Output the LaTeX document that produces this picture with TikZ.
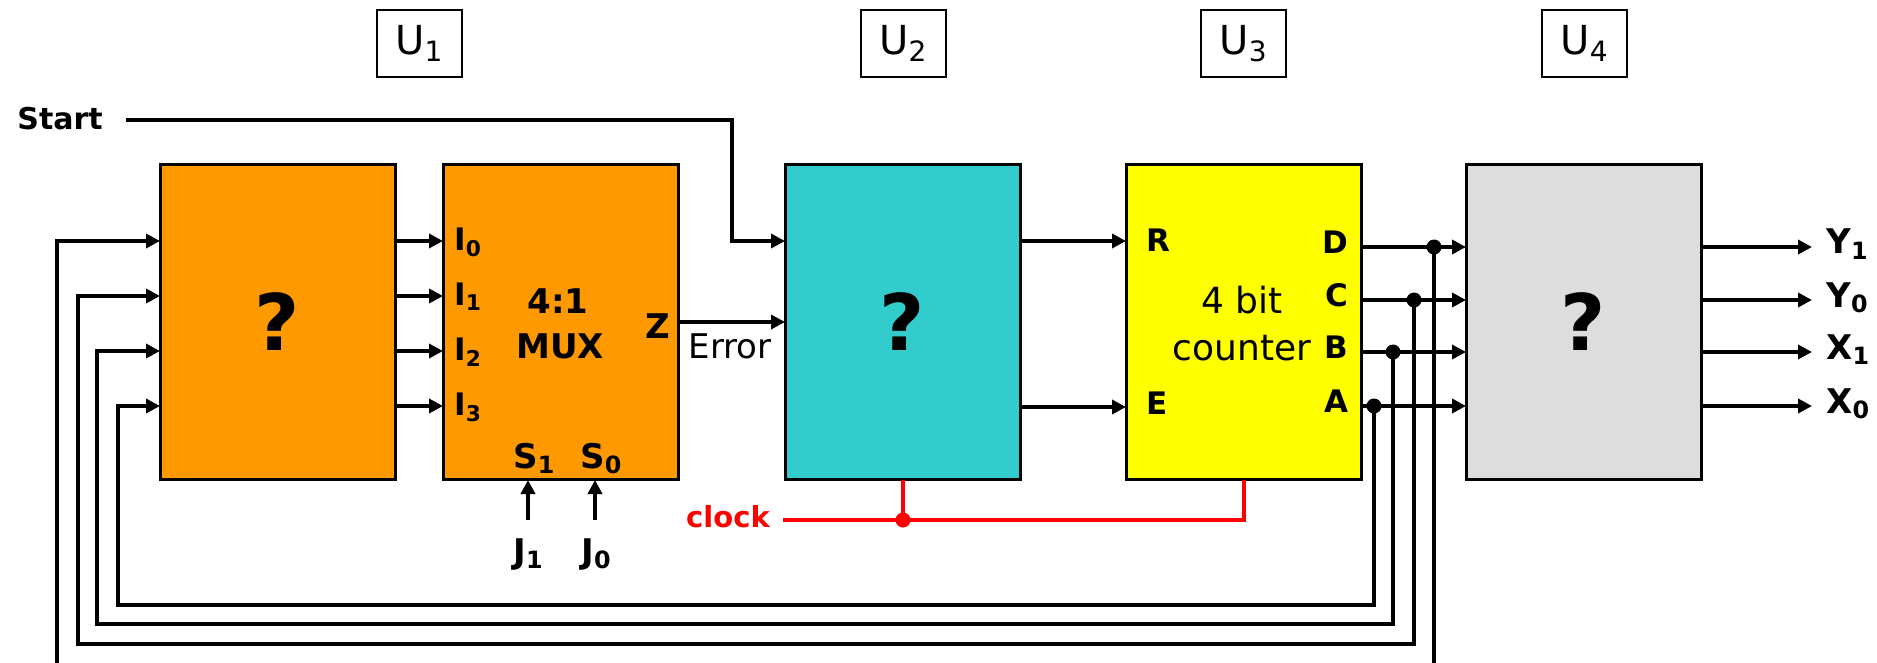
\documentclass[tikz,border=0pt]{standalone}
\usepackage{fontspec}
\setmainfont{DejaVu Sans}
\usetikzlibrary{arrows.meta}
\definecolor{uorange}{HTML}{FF9900}
\definecolor{ucyan}{HTML}{33CCCC}
\definecolor{uyellow}{HTML}{FFFF00}
\definecolor{ugray}{HTML}{DDDDDD}
\definecolor{ured}{HTML}{FF0000}
\newcommand\sbs[1]{\textsubscript{#1}}
\begin{document}
\begin{tikzpicture}[x=0.5pt,y=-0.5pt,
  blk/.style={draw=black,line width=1.5pt,minimum width=117.5pt,minimum height=157pt,inner sep=0pt,outer sep=0pt,anchor=north west},
  ubox/.style={draw=black,line width=1pt,minimum width=42.5pt,minimum height=33.5pt,inner sep=0pt,anchor=north west,font=\fontsize{20}{22}\selectfont},
  wire/.style={line width=1.8pt},
  arr/.style={wire,-{Triangle[length=7pt,width=7pt]}},
  qm/.style={font=\fontsize{39}{40}\selectfont\bfseries,inner sep=0pt},
  lbl/.style={font=\fontsize{15.5}{17}\selectfont\bfseries,inner sep=0pt},
  big/.style={font=\fontsize{17}{19}\selectfont\bfseries,inner sep=0pt},
  reg/.style={font=\fontsize{17}{19}\selectfont,inner sep=0pt},
  dot/.style={circle,fill=black,inner sep=0pt,minimum size=7.5pt},
  clk/.style={line width=1.8pt,draw=ured}
]
\path[use as bounding box] (0,0) rectangle (1877,663);

% blocks
\node[blk,fill=uorange] (b1) at (160,165) {};
\node[blk,fill=uorange] (mux) at (443,165) {};
\node[blk,fill=ucyan] (u2) at (785,165) {};
\node[blk,fill=uyellow] (cnt) at (1126,165) {};
\node[blk,fill=ugray] (u4) at (1466,165) {};

% unit labels
\node[ubox] (lu1) at (376,9) {U\sbs{1}};
\node[ubox] (lu2) at (860,9) {U\sbs{2}};
\node[ubox] (lu3) at (1200,9) {U\sbs{3}};
\node[ubox] (lu4) at (1541,9) {U\sbs{4}};

% question marks
\node[qm] (q1) at (b1.center) {?};
\node[qm] (q2) at (u2.center) {?};
\node[qm] (q4) at (u4.center) {?};

% Start
\node[font=\fontsize{15}{17}\selectfont\bfseries,inner sep=0pt,anchor=base west] (start) at (17,130) {Start};
\coordinate (s0) at (126,120);
\coordinate (sbend) at (732,120);
\coordinate (u2i1) at (785,241);
\draw[arr] (s0) -- (sbend) |- (u2i1);

% block 1 inputs
\coordinate (b1i1) at (160,241);
\coordinate (b1i2) at (160,296);
\coordinate (b1i3) at (160,351);
\coordinate (b1i4) at (160,406);

% block 1 -> mux
\coordinate (b1o1) at (397,241);
\coordinate (b1o2) at (397,296);
\coordinate (b1o3) at (397,351);
\coordinate (b1o4) at (397,406);
\coordinate (mi1) at (443,241);
\coordinate (mi2) at (443,296);
\coordinate (mi3) at (443,351);
\coordinate (mi4) at (443,406);
\draw[arr] (b1o1) -- (mi1);
\draw[arr] (b1o2) -- (mi2);
\draw[arr] (b1o3) -- (mi3);
\draw[arr] (b1o4) -- (mi4);

% mux labels
\node[lbl,anchor=base west] (li0) at (454,250) {I\sbs{0}};
\node[lbl,anchor=base west] (li1) at (454,305) {I\sbs{1}};
\node[lbl,anchor=base west] (li2) at (454,360) {I\sbs{2}};
\node[lbl,anchor=base west] (li3) at (454,415) {I\sbs{3}};
\node[big,anchor=base] (m41) at (558,313) {4:1};
\node[big,anchor=base] (mmux) at (560,358) {MUX};
\node[big,anchor=base east] (mz) at (671,338) {Z};
\node[big,anchor=base west] (ls1) at (513,468) {S\sbs{1}};
\node[big,anchor=base west] (ls0) at (580,468) {S\sbs{0}};
\node[big,anchor=base west] (lj1) at (513,563) {J\sbs{1}};
\node[big,anchor=base west] (lj0) at (581,563) {J\sbs{0}};
\coordinate (j1s) at (528,520);
\coordinate (j1e) at (528,480);
\coordinate (j0s) at (595,520);
\coordinate (j0e) at (595,480);
\draw[arr] (j1s) -- (j1e);
\draw[arr] (j0s) -- (j0e);

% Z -> U2
\coordinate (zo) at (678,322);
\coordinate (u2i2) at (785,322);
\draw[arr] (zo) -- (u2i2);
\node[reg,anchor=base] (err) at (730,358) {Error};

% U2 -> counter
\coordinate (u2o1) at (1020,241);
\coordinate (ci1) at (1126,241);
\coordinate (u2o2) at (1020,407);
\coordinate (ci2) at (1126,407);
\draw[arr] (u2o1) -- (ci1);
\draw[arr] (u2o2) -- (ci2);
\node[lbl,anchor=base west] (lr) at (1146,251) {R};
\node[lbl,anchor=base west] (le) at (1146,414) {E};
\node[font=\fontsize{18}{20}\selectfont,inner sep=0pt,anchor=base] (c4) at (1242,313) {4 bit};
\node[font=\fontsize{18}{20}\selectfont,inner sep=0pt,anchor=base] (cc) at (1242,360) {counter};
\node[lbl,anchor=base east] (ld) at (1349,253) {D};
\node[lbl,anchor=base east] (lc) at (1349,306) {C};
\node[lbl,anchor=base east] (lb) at (1349,358) {B};
\node[lbl,anchor=base east] (la) at (1349,412) {A};

% counter -> U4
\coordinate (co1) at (1360,247);
\coordinate (co2) at (1360,300);
\coordinate (co3) at (1360,352);
\coordinate (co4) at (1360,406);
\coordinate (ui1) at (1466,247);
\coordinate (ui2) at (1466,300);
\coordinate (ui3) at (1466,352);
\coordinate (ui4) at (1466,406);
\draw[arr] (co1) -- (ui1);
\draw[arr] (co2) -- (ui2);
\draw[arr] (co3) -- (ui3);
\draw[arr] (co4) -- (ui4);
\node[dot] (dD) at (1434,247) {};
\node[dot] (dC) at (1414,300) {};
\node[dot] (dB) at (1393,352) {};
\node[dot] (dA) at (1374,406) {};

% feedback
\coordinate (fD) at (1434,663);
\coordinate (fDl) at (57,663);
\draw[wire] (dD.center) -- (fD);
\draw[arr] (fDl) |- (b1i1);
\coordinate (fC) at (78,644);
\draw[arr] (dC.center) |- (fC) |- (b1i2);
\coordinate (fB) at (97,624);
\draw[arr] (dB.center) |- (fB) |- (b1i3);
\coordinate (fA) at (118,605);
\draw[arr] (dA.center) |- (fA) |- (b1i4);

% U4 outputs
\coordinate (uo1) at (1703,247);
\coordinate (uo2) at (1703,300);
\coordinate (uo3) at (1703,352);
\coordinate (uo4) at (1703,406);
\coordinate (yo1) at (1812,247);
\coordinate (yo2) at (1812,300);
\coordinate (yo3) at (1812,352);
\coordinate (yo4) at (1812,406);
\draw[arr] (uo1) -- (yo1);
\draw[arr] (uo2) -- (yo2);
\draw[arr] (uo3) -- (yo3);
\draw[arr] (uo4) -- (yo4);
\node[big,anchor=base west] (ly1) at (1826,254) {Y\sbs{1}};
\node[big,anchor=base west] (ly0) at (1826,307) {Y\sbs{0}};
\node[big,anchor=base west] (lx1) at (1826,359) {X\sbs{1}};
\node[big,anchor=base west] (lx0) at (1826,413) {X\sbs{0}};

% clock
\node[font=\fontsize{14.5}{16}\selectfont\bfseries,text=ured,inner sep=0pt,anchor=base] (clk) at (728,527) {clock};
\coordinate (k0) at (783,520);
\coordinate (k1) at (1244,480);
\coordinate (k2) at (903,480);
\draw[clk] (k0) -| (k1);
\node[dot,fill=ured] (kd) at (903,520) {};
\draw[clk] (kd.center) -- (k2);
\end{tikzpicture}
\end{document}
